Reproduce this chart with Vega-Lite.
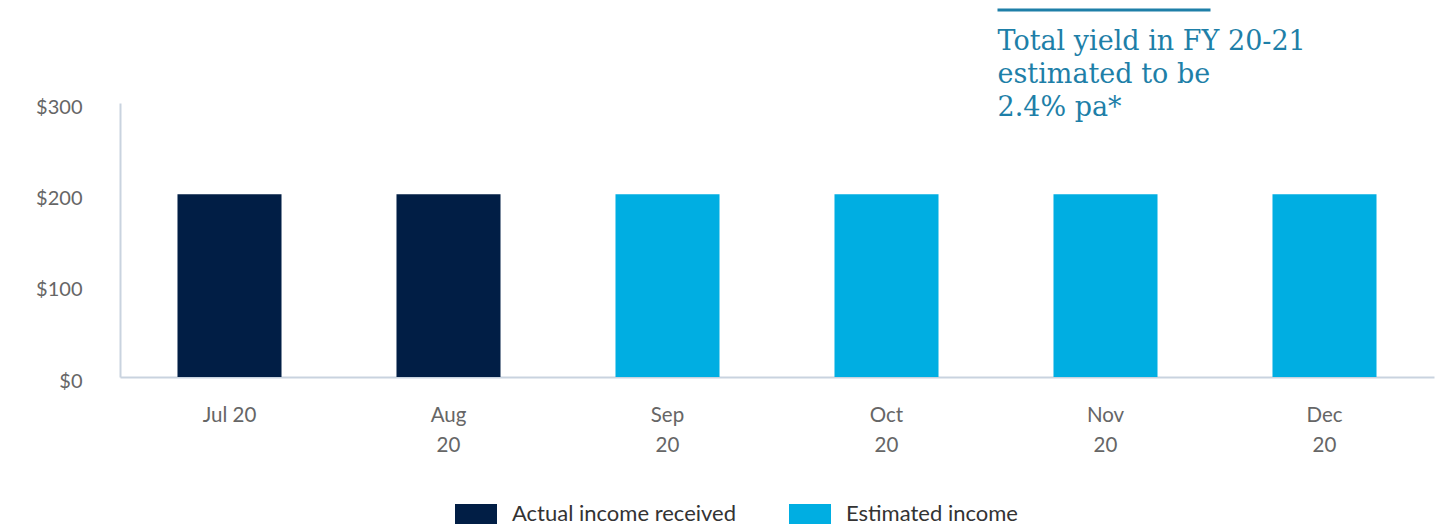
{
  "$schema": "https://vega.github.io/schema/vega-lite/v6.json",
  "autosize": {"type": "none"},
  "width": 1314,
  "height": 274,
  "padding": {"left": 120, "top": 103, "right": 8, "bottom": 150},
  "background": "white",
  "config": {"view": {"stroke": null}},
  "layer": [
    {
      "data": {
        "values": [
          {"month": "Jul 20", "income": 200, "type": "Actual income received"},
          {"month": "Aug 20", "income": 200, "type": "Actual income received"},
          {"month": "Sep 20", "income": 200, "type": "Estimated income"},
          {"month": "Oct 20", "income": 200, "type": "Estimated income"},
          {"month": "Nov 20", "income": 200, "type": "Estimated income"},
          {"month": "Dec 20", "income": 200, "type": "Estimated income"}
        ]
      },
      "mark": {"type": "bar"},
      "encoding": {
        "x": {
          "field": "month",
          "type": "nominal",
          "sort": null,
          "scale": {"paddingInner": 0.525, "paddingOuter": 0.2625},
          "axis": {
            "title": null,
            "labelAngle": 0,
            "domainColor": "#c9d3df",
            "domainWidth": 2,
            "ticks": false,
            "labelFont": "Lato",
            "labelFontSize": 20.5,
            "labelColor": "#666666",
            "labelPadding": 28,
            "labelLineHeight": 30,
            "labelExpr": "datum.value == 'Jul 20' ? datum.value : split(datum.value, ' ')"
          }
        },
        "y": {
          "field": "income",
          "type": "quantitative",
          "scale": {"domain": [0, 300], "nice": false},
          "axis": {
            "title": null,
            "values": [0, 100, 200, 300],
            "labelExpr": "'$' + datum.value",
            "grid": false,
            "ticks": false,
            "domainColor": "#c9d3df",
            "domainWidth": 2,
            "labelPadding": 38,
            "labelOffset": 4,
            "labelFont": "Lato",
            "labelFontSize": 20,
            "labelColor": "#666666"
          }
        },
        "color": {
          "field": "type",
          "type": "nominal",
          "scale": {
            "domain": ["Actual income received", "Estimated income"],
            "range": ["#011e45", "#00aee2"]
          },
          "legend": {
            "title": null,
            "orient": "none",
            "legendX": 335,
            "legendY": 390,
            "direction": "horizontal",
            "symbolType": "M-1,-0.476H1V0.476H-1Z",
            "symbolSize": 1764,
            "symbolStrokeWidth": 0,
            "symbolOpacity": 1,
            "labelFont": "Lato",
            "labelFontSize": 22,
            "labelColor": "#333333",
            "labelOffset": 15,
            "labelLimit": 400,
            "columnPadding": 52,
            "padding": 0
          }
        }
      }
    },
    {
      "data": {"values": [{}]},
      "mark": {
        "type": "rule",
        "color": "#1e7fa8",
        "strokeWidth": 3,
        "xOffset": -108,
        "x2Offset": 105,
        "yOffset": -93
      },
      "encoding": {
        "x": {"datum": "Nov 20"},
        "x2": {"datum": "Nov 20"},
        "y": {"datum": 300}
      }
    },
    {
      "data": {"values": [{"note": "Total yield in FY 20-21\nestimated to be\n2.4% pa*"}]},
      "mark": {
        "type": "text",
        "lineBreak": "\n",
        "align": "left",
        "baseline": "top",
        "font": "DejaVu Serif",
        "fontSize": 27,
        "lineHeight": 33,
        "color": "#1e7fa8",
        "xOffset": -108,
        "yOffset": -74
      },
      "encoding": {
        "x": {"datum": "Nov 20"},
        "y": {"datum": 300},
        "text": {"field": "note"}
      }
    }
  ]
}
